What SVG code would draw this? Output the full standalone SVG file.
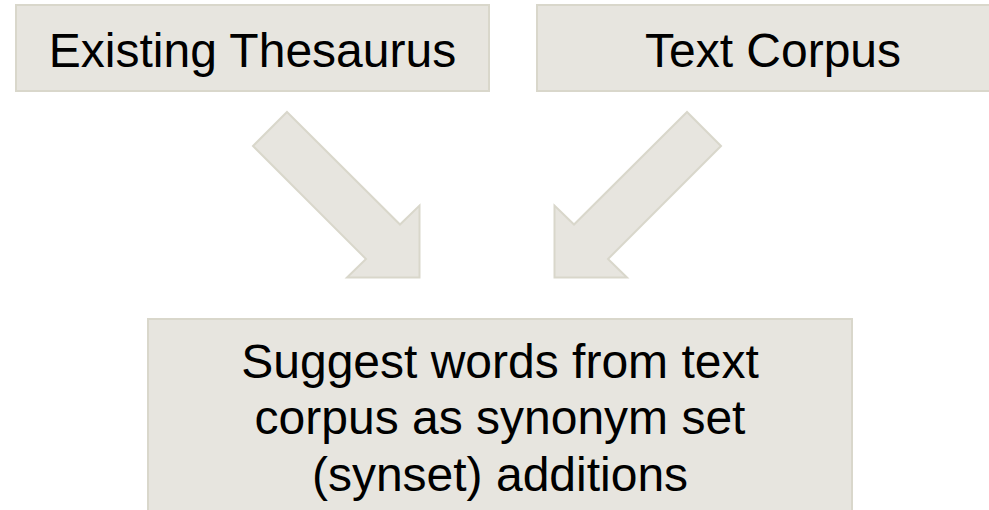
<svg xmlns="http://www.w3.org/2000/svg" width="989" height="510" viewBox="0 0 989 510">
  <style>
    .box { fill: #e7e5df; stroke: #d9d7cb; stroke-width: 2; }
    .arrow { fill: #e7e5df; stroke: #d9d7cb; stroke-width: 2; stroke-linejoin: miter; }
    .label { font-family: "Liberation Sans", Arial, sans-serif; font-size: 48px; fill: #000000; text-anchor: middle; }
  </style>
  <rect width="989" height="510" fill="#ffffff"/>

  <g id="existing-thesaurus">
    <rect class="box" x="16" y="5" width="473" height="86"/>
    <text class="label" x="252.5" y="67">Existing Thesaurus</text>
  </g>

  <g id="text-corpus">
    <rect class="box" x="537" y="5" width="473" height="86"/>
    <text class="label" x="773" y="67">Text Corpus</text>
  </g>

  <g id="suggest-additions">
    <rect class="box" x="148" y="319" width="704" height="200"/>
    <text class="label" x="500" y="378">Suggest words from text</text>
    <text class="label" x="500" y="434">corpus as synonym set</text>
    <text class="label" x="500" y="491">(synset) additions</text>
  </g>

  <g id="connectors">
    <polygon class="arrow" points="287,112 400,224.5 419.5,205.5 419.5,277.5 347,277.5 366,259 253,146"/>
    <polygon class="arrow" points="687,112 574,224.5 554.5,205.5 554.5,277.5 627,277.5 608,259 721,146"/>
  </g>
</svg>
